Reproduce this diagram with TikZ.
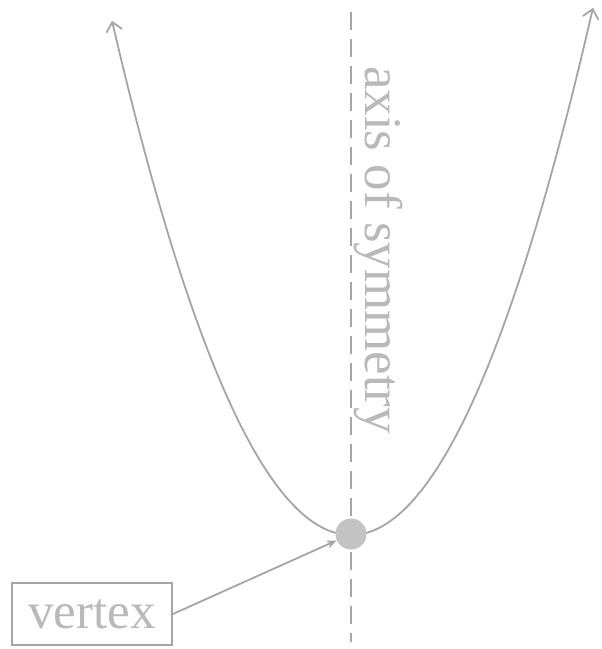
\documentclass[tikz,border=0pt]{standalone}
\usepackage{fontspec}
\setmainfont{Liberation Serif}
\usetikzlibrary{arrows.meta}
\definecolor{ln}{RGB}{165,165,165}
\definecolor{tx}{RGB}{185,185,185}
\definecolor{dotc}{RGB}{195,195,195}
\tikzset{
  curve/.style={draw=ln, line width=1.8pt, -{Straight Barb[length=9pt,width=16pt]}},
  axisline/.style={draw=ln, line width=1.8pt, dash pattern=on 18pt off 9pt},
  lbl/.style={text=tx, font=\fontsize{53}{62}\selectfont},
  boxlbl/.style={lbl, font=\fontsize{51}{60}\selectfont, draw=ln, line width=1.8pt, inner xsep=12pt, inner ysep=2pt, minimum width=160pt, minimum height=62pt},
  conn/.style={draw=ln, line width=1.8pt, -{Stealth[length=10pt,width=8pt]}}
}
\begin{document}
\begin{tikzpicture}[x=1pt,y=-1pt]
\useasboundingbox (0,0) rectangle (602,649);
% axis of symmetry
\coordinate (atop) at (351,12);
\coordinate (abot) at (351,642);
\draw[axisline] (atop) -- (abot);
% parabola halves
\draw[curve] plot[domain=351:112, samples=120, smooth] (\x, {535-0.009*(\x-351)*(\x-351)});
\draw[curve] plot[domain=351:593, samples=120, smooth] (\x, {535-0.009*(\x-351)*(\x-351)});
% vertex
\node[circle, fill=dotc, minimum size=31pt, inner sep=0pt] (v) at (351,534) {};
% label
\node[lbl, rotate=-90, anchor=center] (axlbl) at (378,250) {axis of symmetry};
% vertex box
\node[boxlbl] (box) at (92,614) {vertex};
\draw[conn] (box.east) -- (v);
\end{tikzpicture}
\end{document}
